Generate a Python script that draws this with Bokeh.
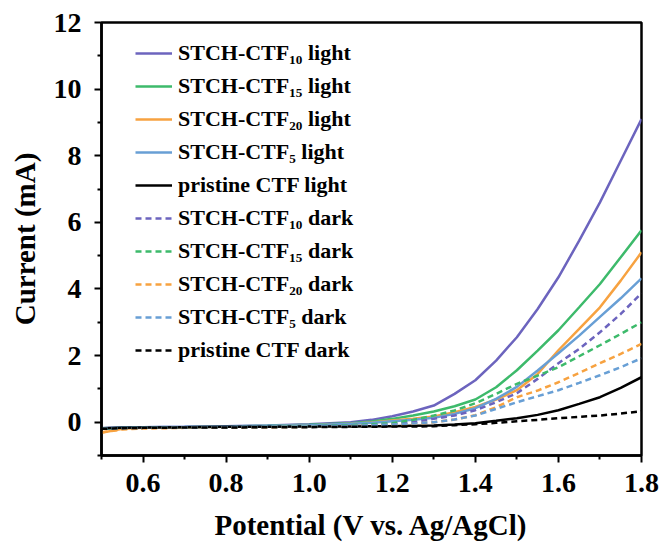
from bokeh.plotting import figure
from bokeh.models import FixedTicker, Legend, LegendItem
from bokeh.embed import file_html
from bokeh.resources import INLINE

potential = [0.5, 0.55, 0.6, 0.7, 0.8, 0.9, 1.0, 1.1, 1.15, 1.2, 1.25, 1.3, 1.35, 1.4,
             1.45, 1.5, 1.55, 1.6, 1.65, 1.7, 1.75, 1.8]

ctf10_light = [-0.18, -0.16, -0.15, -0.14, -0.12, -0.1, -0.06, 0.0, 0.07, 0.18, 0.32, 0.5, 0.85, 1.26,
               1.85, 2.55, 3.4, 4.35, 5.45, 6.6, 7.85, 9.1]
ctf15_light = [-0.2, -0.17, -0.16, -0.15, -0.13, -0.11, -0.08, -0.03, 0.02, 0.1, 0.2, 0.32, 0.48, 0.68,
               1.05, 1.56, 2.15, 2.76, 3.45, 4.15, 4.95, 5.76]
ctf20_light = [-0.32, -0.2, -0.17, -0.15, -0.13, -0.12, -0.1, -0.05, -0.01, 0.05, 0.1, 0.17, 0.3, 0.46,
               0.68, 0.96, 1.45, 2.16, 2.8, 3.45, 4.25, 5.1]
ctf5_light = [-0.18, -0.16, -0.15, -0.14, -0.12, -0.11, -0.09, -0.05, -0.02, 0.03, 0.07, 0.13, 0.25, 0.42,
              0.7, 1.06, 1.55, 2.07, 2.6, 3.16, 3.72, 4.32]
pristine_light = [-0.18, -0.17, -0.16, -0.15, -0.14, -0.14, -0.13, -0.13, -0.12, -0.12, -0.11, -0.1, -0.07, -0.03,
                  0.04, 0.12, 0.22, 0.36, 0.55, 0.75, 1.03, 1.35]
ctf10_dark = [-0.2, -0.18, -0.17, -0.16, -0.15, -0.14, -0.13, -0.1, -0.08, -0.05, 0.0, 0.1, 0.2, 0.36,
              0.6, 0.87, 1.3, 1.77, 2.2, 2.7, 3.25, 3.87]
ctf15_dark = [-0.2, -0.18, -0.17, -0.16, -0.15, -0.14, -0.12, -0.09, -0.06, -0.03, 0.07, 0.2, 0.35, 0.57,
              0.85, 1.15, 1.4, 1.65, 1.98, 2.31, 2.65, 3.0]
ctf20_dark = [-0.3, -0.22, -0.19, -0.17, -0.16, -0.15, -0.14, -0.12, -0.1, -0.08, -0.05, 0.0, 0.08, 0.21,
              0.45, 0.75, 0.95, 1.2, 1.48, 1.77, 2.05, 2.35]
ctf5_dark = [-0.2, -0.18, -0.17, -0.16, -0.15, -0.14, -0.13, -0.11, -0.09, -0.07, -0.04, 0.0, 0.08, 0.2,
             0.4, 0.6, 0.78, 0.96, 1.18, 1.41, 1.65, 1.92]
pristine_dark = [-0.2, -0.18, -0.17, -0.16, -0.16, -0.15, -0.15, -0.14, -0.14, -0.13, -0.13, -0.12, -0.09, -0.06,
                 -0.02, 0.03, 0.07, 0.12, 0.16, 0.2, 0.26, 0.33]

labels = ["STCH-CTF₁₀ light", "STCH-CTF₁₅ light", "STCH-CTF₂₀ light", "STCH-CTF₅ light",
          "pristine CTF light", "STCH-CTF₁₀ dark", "STCH-CTF₁₅ dark", "STCH-CTF₂₀ dark",
          "STCH-CTF₅ dark", "pristine CTF dark"]
series = [ctf10_light, ctf15_light, ctf20_light, ctf5_light, pristine_light,
          ctf10_dark, ctf15_dark, ctf20_dark, ctf5_dark, pristine_dark]
colors = ["#6C64BE", "#3DBA6B", "#F7A240", "#689FD5", "#000000"] * 2
dashes = ["solid"] * 5 + ["6 4"] * 5

x_ticks = [0.6, 0.8, 1.0, 1.2, 1.4, 1.6, 1.8]
x_minor = [0.5, 0.7, 0.9, 1.1, 1.3, 1.5, 1.7]
y_ticks = [0, 2, 4, 6, 8, 10, 12]
y_minor = [-1, 1, 3, 5, 7, 9, 11]

FONT = "Liberation Serif"

p = figure(width=662, height=546, output_backend="svg", toolbar_location=None,
           x_range=(0.5, 1.8), y_range=(-1, 12),
           min_border_left=101, min_border_right=21, min_border_top=22, min_border_bottom=91)
p.grid.visible = False
p.outline_line_color = "black"
p.outline_line_width = 2.5
p.background_fill_color = "white"
p.border_fill_color = "white"

renderers = []
for ys, c, d in zip(series, colors, dashes):
    r = p.line(potential, ys, line_color=c, line_width=2.5, line_dash=d)
    renderers.append(r)

legend = Legend(items=[LegendItem(label=l, renderers=[r]) for l, r in zip(labels, renderers)],
                location=(34, 92), border_line_alpha=0, background_fill_alpha=0,
                padding=0, margin=0, spacing=7, glyph_width=37, glyph_height=22,
                label_height=22, label_standoff=6,
                label_text_font=FONT, label_text_font_style="bold", label_text_font_size="22px",
                label_text_color="black")
p.add_layout(legend, "center")

for ax in (p.xaxis[0], p.yaxis[0]):
    ax.axis_line_width = 2.5
    ax.axis_line_color = "black"
    ax.major_tick_line_width = 2
    ax.minor_tick_line_width = 2
    ax.major_tick_out = 7
    ax.major_tick_in = 0
    ax.minor_tick_out = 4
    ax.minor_tick_in = 0
    ax.major_label_text_font = FONT
    ax.major_label_text_font_style = "bold"
    ax.major_label_text_font_size = "28px"
    ax.major_label_text_color = "black"
    ax.axis_label_text_font = FONT
    ax.axis_label_text_font_style = "bold"
    ax.axis_label_text_font_size = "29px"
    ax.axis_label_text_color = "black"

p.xaxis.ticker = FixedTicker(ticks=x_ticks, minor_ticks=x_minor)
p.yaxis.ticker = FixedTicker(ticks=y_ticks, minor_ticks=y_minor)
p.xaxis.major_label_overrides = {v: f"{v:.1f}" for v in x_ticks}
p.xaxis.axis_label = "Potential (V vs. Ag/AgCl)"
p.yaxis.axis_label = "Current (mA)"
p.xaxis.major_label_standoff = 11
p.yaxis.major_label_standoff = 13
p.xaxis.axis_label_standoff = 14
p.yaxis.axis_label_standoff = 10

open("out.html", "w").write(file_html(p, INLINE))
